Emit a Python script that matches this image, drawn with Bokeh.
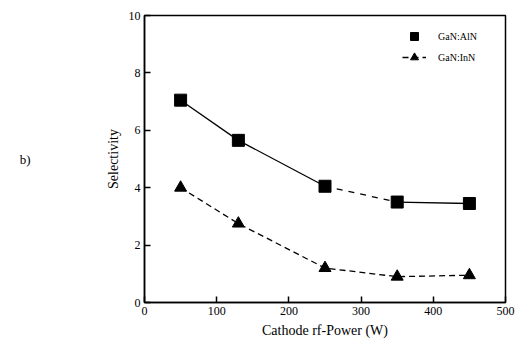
from bokeh.plotting import figure
from bokeh.models import Legend, LegendItem, Range1d, LinearAxis
from bokeh.embed import file_html
from bokeh.resources import INLINE

power = [50, 130, 250, 350, 450]
gan_aln = [7.05, 5.65, 4.05, 3.5, 3.45]
gan_inn = [4.0, 2.75, 1.2, 0.9, 0.95]
seg_dash_aln = ["solid", "solid", "dashed", "solid"]
x_ticks = [0, 100, 200, 300, 400, 500]
y_ticks = [0, 2, 4, 6, 8, 10]

FONT = "Liberation Serif"

p = figure(width=529, height=360, output_backend="svg", toolbar_location=None,
           x_range=Range1d(0, 500), y_range=Range1d(0, 10),
           min_border_left=144, min_border_right=24, min_border_top=15, min_border_bottom=58)
p.grid.visible = False
p.outline_line_color = "black"
p.outline_line_width = 1.5
p.background_fill_color = "white"
p.border_fill_color = "white"

for ax in (p.xaxis[0], p.yaxis[0]):
    ax.major_label_text_font = FONT
    ax.major_label_text_font_size = "12px"
    ax.major_label_text_color = "black"
    ax.axis_label_text_font = FONT
    ax.axis_label_text_font_size = "14px"
    ax.axis_label_text_font_style = "normal"
    ax.axis_label_text_color = "black"
    ax.axis_line_width = 1.5
    ax.axis_line_color = "black"
    ax.major_tick_in = 6
    ax.major_tick_out = 0
    ax.major_tick_line_width = 1.5
    ax.major_tick_line_color = "black"
    ax.minor_tick_line_color = None
    ax.major_label_standoff = 4
p.xaxis.ticker = x_ticks
p.yaxis.ticker = y_ticks
p.xaxis.axis_label = "Cathode rf-Power (W)"
p.yaxis.axis_label = "Selectivity"
p.yaxis.major_label_orientation = "horizontal"

xs0 = [[power[i], power[i + 1]] for i in range(len(power) - 1)]
ys0 = [[gan_aln[i], gan_aln[i + 1]] for i in range(len(power) - 1)]
for i in range(len(xs0)):
    p.line(xs0[i], ys0[i], line_color="black", line_width=1.3, line_dash=seg_dash_aln[i])
r_sq = p.scatter(power, gan_aln, marker="square", size=12, fill_color="black", line_color="black")

r_tl = p.line(power, gan_inn, line_color="black", line_width=1.3, line_dash="6 4")
r_tr = p.scatter(power, gan_inn, marker="triangle", size=12, fill_color="black", line_color="black")

legend = Legend(items=[LegendItem(label="GaN:AlN", renderers=[r_sq]),
                       LegendItem(label="GaN:InN", renderers=[r_tl, r_tr])],
                border_line_color=None, background_fill_alpha=0,
                label_text_font=FONT, label_text_font_size="10px", label_text_color="black",
                glyph_width=24, spacing=1, margin=0, padding=0, label_standoff=12)
p.add_layout(legend)
legend.location = (258, 235)

# panel label "b)" as an extra, invisible left axis
bax = LinearAxis(axis_line_color=None, major_tick_line_color=None, minor_tick_line_color=None,
                 major_label_text_color=None, major_label_text_font_size="1px",
                 axis_label="b)", axis_label_text_font=FONT, axis_label_text_font_size="13px",
                 axis_label_text_font_style="normal", axis_label_text_color="black",
                 axis_label_standoff=72)
try:
    bax.axis_label_orientation = "horizontal"
except Exception:
    pass
bax.ticker = []
p.add_layout(bax, "left")

open("out.html", "w").write(file_html(p, INLINE))
